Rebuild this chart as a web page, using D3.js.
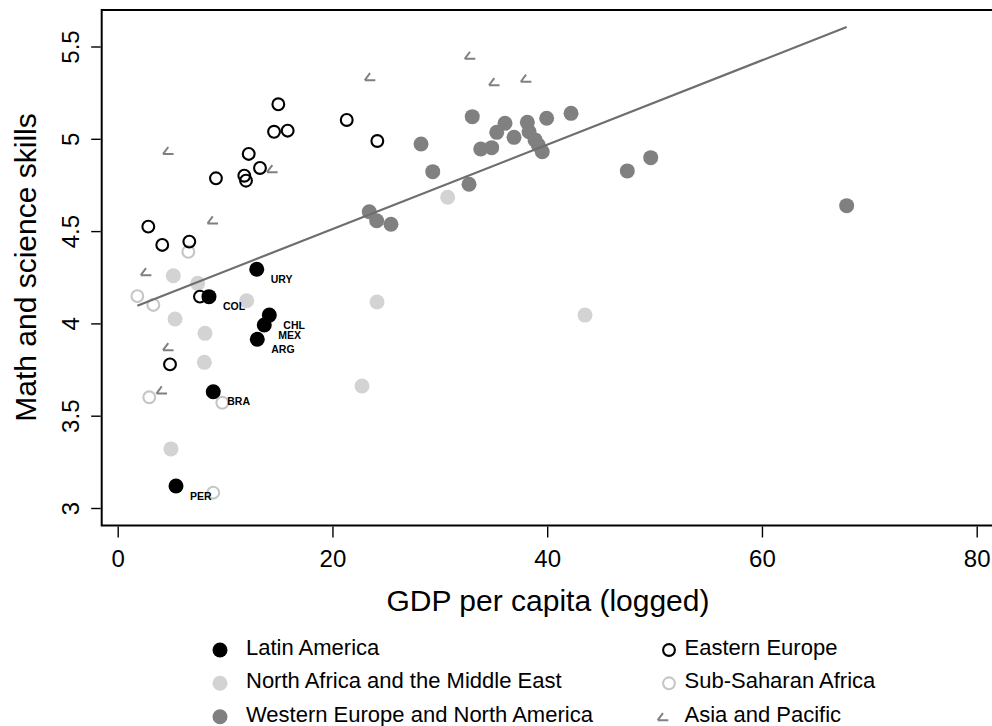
<!DOCTYPE html>
<html>
<head>
<meta charset="utf-8">
<script src="https://cdn.jsdelivr.net/npm/d3@7"></script>
<style>
  body { margin: 0; background: #fff; }
  svg { display: block; }
  text { font-family: "Liberation Sans", Arial, Helvetica, sans-serif; fill: #000; }
</style>
</head>
<body>
<svg id="chart" width="992" height="726"></svg>
<script>
// Country observations by region: GDP per capita (logged) vs. math and science skills
const latinAmerica = [
  { code: "URY", gdp: 12.95, skills: 4.293 },
  { code: "COL", gdp: 8.50,  skills: 4.145 },
  { code: "CHL", gdp: 14.12, skills: 4.045 },
  { code: "MEX", gdp: 13.65, skills: 3.991 },
  { code: "ARG", gdp: 13.00, skills: 3.914 },
  { code: "BRA", gdp: 8.90,  skills: 3.630 },
  { code: "PER", gdp: 5.43,  skills: 3.119 }
];
const northAfricaMiddleEast = [
  [5.18, 4.258], [7.45, 4.217], [12.01, 4.123], [5.34, 4.024], [8.13, 3.946],
  [8.07, 3.789], [4.96, 3.320], [30.73, 4.683], [24.15, 4.116], [22.75, 3.661],
  [43.52, 4.045]
];
const westernEuropeNorthAmerica = [
  [33.02, 5.120], [28.25, 4.972], [29.34, 4.822], [32.72, 4.754], [23.43, 4.605],
  [24.12, 4.556], [25.45, 4.537], [33.81, 4.945], [34.83, 4.952], [35.30, 5.035],
  [36.07, 5.084], [36.91, 5.008], [38.15, 5.089], [38.31, 5.038], [38.87, 4.994],
  [39.17, 4.966], [39.54, 4.930], [39.95, 5.111], [42.22, 5.138], [49.64, 4.898],
  [47.46, 4.826], [67.89, 4.638]
];
const easternEurope = [
  [14.96, 5.187], [14.56, 5.038], [15.83, 5.044], [21.33, 5.102], [12.20, 4.918],
  [13.25, 4.842], [11.79, 4.800], [11.95, 4.773], [9.15, 4.786], [2.85, 4.524],
  [4.15, 4.425], [6.67, 4.443], [24.18, 4.988], [4.87, 3.778], [7.66, 4.145]
];
const subSaharanAfrica = [
  [1.83, 4.148], [3.32, 4.100], [2.94, 3.600], [9.74, 3.570], [8.90, 3.083],
  [6.58, 4.388]
];
const asiaPacific = [
  [5.27, 4.936], [9.41, 4.560], [3.20, 4.280], [14.96, 4.838], [5.27, 3.874],
  [4.66, 3.639], [24.06, 5.336], [33.37, 5.452], [35.63, 5.309], [38.59, 5.328]
];

// Linear fit of skills on GDP, drawn across the observed GDP range
const fitIntercept = 4.054;
const fitSlope = 0.02285;

const xTicks = [0, 20, 40, 60, 80];
const xTickLabels = ["0", "20", "40", "60", "80"];
const yTicks = [3, 3.5, 4, 4.5, 5, 5.5];
const yTickLabels = ["3", "3.5", "4", "4.5", "5", "5.5"];

const xTitle = "GDP per capita (logged)";
const yTitle = "Math and science skills";

// Marker styles
const styles = {
  latin:  { kind: "filled", fill: "#000000" },
  mena:   { kind: "filled", fill: "#d3d3d3" },
  west:   { kind: "filled", fill: "#808080" },
  east:   { kind: "hollow", stroke: "#000000" },
  ssa:    { kind: "hollow", stroke: "#c6c6c6" },
  asia:   { kind: "angle",  stroke: "#808080" }
};

const legendItems = [
  { label: "Latin America", style: "latin", col: 0, row: 0 },
  { label: "North Africa and the Middle East", style: "mena", col: 0, row: 1 },
  { label: "Western Europe and North America", style: "west", col: 0, row: 2 },
  { label: "Eastern Europe", style: "east", col: 1, row: 0 },
  { label: "Sub-Saharan Africa", style: "ssa", col: 1, row: 1 },
  { label: "Asia and Pacific", style: "asia", col: 1, row: 2 }
];

const svg = d3.select("#chart");

const frame = { left: 101.7, top: 10, right: 995, bottom: 525.5 };
const x = d3.scaleLinear().domain([0, 80]).range([117.7, 976.7]);
const y = d3.scaleLinear().domain([3, 5.5]).range([508, 46.5]);

// Plot frame (right edge runs past the canvas)
svg.append("rect")
  .attr("x", frame.left).attr("y", frame.top)
  .attr("width", frame.right - frame.left).attr("height", frame.bottom - frame.top)
  .attr("fill", "none").attr("stroke", "#000").attr("stroke-width", 2);

// X axis
const xAxis = svg.append("g")
  .attr("transform", `translate(0,${frame.bottom + 1})`)
  .call(d3.axisBottom(x).tickValues(xTicks).tickSize(11).tickPadding(12)
    .tickFormat((d, i) => xTickLabels[i]));
xAxis.select(".domain").remove();
xAxis.selectAll("line").attr("stroke", "#000").attr("stroke-width", 1.4);
xAxis.selectAll("text").attr("font-size", 24).attr("font-family", "Liberation Sans, Arial, sans-serif");

// Y axis with rotated labels
const yAxisX = frame.left - 1;
const yAxis = svg.append("g")
  .attr("transform", `translate(${yAxisX},0)`)
  .call(d3.axisLeft(y).tickValues(yTicks).tickSize(9.5).tickFormat((d, i) => yTickLabels[i]));
yAxis.select(".domain").remove();
yAxis.selectAll("line").attr("stroke", "#000").attr("stroke-width", 1.4);
yAxis.selectAll("text")
  .attr("font-size", 24).attr("font-family", "Liberation Sans, Arial, sans-serif")
  .attr("x", null).attr("dy", null).attr("y", 0)
  .attr("text-anchor", "middle")
  .attr("transform", `translate(${79 - yAxisX},0) rotate(-90)`);

// Axis titles
svg.append("text")
  .attr("x", 548).attr("y", 611)
  .attr("text-anchor", "middle").attr("font-size", 30)
  .text(xTitle);
svg.append("text")
  .attr("transform", `translate(36,267.5) rotate(-90)`)
  .attr("text-anchor", "middle").attr("font-size", 30)
  .text(yTitle);

// Marker drawing
const anglePath = "M-6.3,3.5 L4.3,3.5 M-6.3,3.5 L-1,-3.6";
function drawMarker(g, cx, cy, styleKey) {
  const s = styles[styleKey];
  if (s.kind === "filled") {
    g.append("circle").attr("cx", cx).attr("cy", cy).attr("r", 7.5).attr("fill", s.fill);
  } else if (s.kind === "hollow") {
    g.append("circle").attr("cx", cx).attr("cy", cy).attr("r", 5.9)
      .attr("fill", "none").attr("stroke", s.stroke).attr("stroke-width", 2.1);
  } else {
    g.append("path").attr("transform", `translate(${cx - 5},${cy})`)
      .attr("d", anglePath).attr("fill", "none")
      .attr("stroke", s.stroke).attr("stroke-width", 2);
  }
}

const plot = svg.append("g");
function drawSeries(data, styleKey) {
  const g = plot.append("g");
  data.forEach(d => drawMarker(g, x(d[0]), y(d[1]), styleKey));
}
drawSeries(subSaharanAfrica, "ssa");
drawSeries(northAfricaMiddleEast, "mena");
drawSeries(westernEuropeNorthAmerica, "west");
drawSeries(easternEurope, "east");
drawSeries(asiaPacific, "asia");

const latinG = plot.append("g");
latinAmerica.forEach(d => drawMarker(latinG, x(d.gdp), y(d.skills), "latin"));
latinG.selectAll("text.code").data(latinAmerica).join("text")
  .attr("class", "code")
  .attr("x", d => x(d.gdp) + 14)
  .attr("y", d => y(d.skills) + 13.7)
  .attr("font-size", 10.5).attr("font-weight", "bold")
  .text(d => d.code);

// Fitted line over the observed range
const allGdp = [].concat(
  latinAmerica.map(d => d.gdp),
  northAfricaMiddleEast.map(d => d[0]),
  westernEuropeNorthAmerica.map(d => d[0]),
  easternEurope.map(d => d[0]),
  subSaharanAfrica.map(d => d[0]),
  asiaPacific.map(d => d[0])
);
const gdpExtent = d3.extent(allGdp);
svg.append("path")
  .datum(gdpExtent.map(g => [g, fitIntercept + fitSlope * g]))
  .attr("d", d3.line().x(d => x(d[0])).y(d => y(d[1])))
  .attr("fill", "none").attr("stroke", "#6e6e6e").attr("stroke-width", 2.2);

// Legend
const legendKeyX = [220, 669];
const legendTextX = [246, 684.5];
const legendRowY = [650, 683.3, 716.7];
const legend = svg.append("g");
legendItems.forEach(item => {
  const ky = legendRowY[item.row];
  drawMarker(legend, legendKeyX[item.col], ky, item.style);
  legend.append("text")
    .attr("x", legendTextX[item.col]).attr("y", ky + 4.8)
    .attr("font-size", 22)
    .text(item.label);
});
</script>
</body>
</html>
